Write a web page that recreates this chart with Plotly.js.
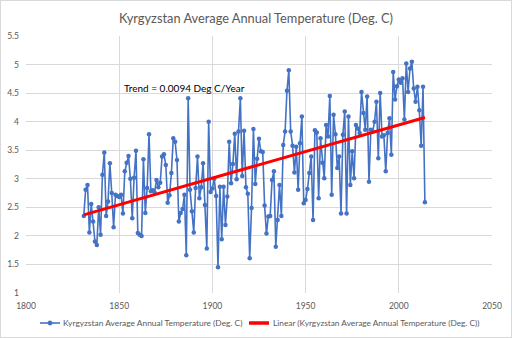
<!DOCTYPE html>
<html><head><meta charset="utf-8">
<script src="https://cdn.plot.ly/plotly-3.0.1.min.js"></script>
<style>
html,body{margin:0;padding:0;background:#fff;}
#wrap{position:relative;width:512px;height:338px;}
#chart{width:512px;height:338px;}
#frame{position:absolute;left:0;top:0;width:512px;height:338px;box-sizing:border-box;border:1px solid #d9d9d9;pointer-events:none;}
</style></head>
<body><div id="wrap"><div id="chart"></div><div id="frame"></div></div>
<script>
const startYear = 1831;
const temps = [
 2.35,2.81,2.89,2.06,2.56,2.25,1.90,1.84,2.50,2.02,
 3.07,3.46,2.35,2.60,3.27,2.75,2.15,2.72,2.70,2.68,
 2.72,2.39,3.13,3.28,3.40,3.00,2.31,3.02,3.49,2.05,
 2.02,2.00,3.34,2.40,2.84,3.78,2.78,2.80,2.76,2.98,
 2.85,2.93,3.39,3.43,3.24,2.58,2.71,3.10,3.71,3.65,
 3.33,2.25,2.40,2.47,2.72,1.66,4.41,2.81,2.43,2.06,
 2.84,3.39,2.66,2.85,3.27,2.54,1.78,4.00,2.77,2.83,
 3.00,2.70,1.45,2.86,1.94,2.86,2.19,2.69,3.65,2.92,
 3.26,3.79,2.99,3.83,4.41,3.05,3.84,2.85,2.74,1.61,
 2.49,3.87,2.91,3.35,3.70,3.48,3.47,2.53,2.04,2.34,
 2.35,2.98,3.13,1.81,2.28,2.89,2.35,3.59,3.83,4.54,
 4.90,3.83,3.58,3.11,3.56,2.81,3.62,4.09,2.57,2.63,
 2.82,3.10,3.39,2.28,3.85,3.81,2.66,3.71,3.28,3.01,
 3.94,3.74,4.45,2.72,4.12,3.78,3.19,3.39,2.39,3.77,
 4.18,2.39,4.09,2.89,3.48,3.01,3.94,3.88,3.80,4.52,
 4.15,3.86,4.44,2.95,3.86,3.83,4.00,4.35,3.36,4.50,
 3.74,3.76,3.13,3.80,4.06,3.42,4.87,4.39,4.62,4.74,
 4.68,4.76,4.04,5.02,4.52,4.93,5.05,4.58,4.35,4.61,
 4.20,3.58,4.61,2.59
];
const years = temps.map((_, i) => startYear + i);
const seriesName = "Kyrgyzstan Average Annual Temperature (Deg. C)";
const trendName = "Linear (Kyrgyzstan Average Annual Temperature (Deg. C))";
const trendLabel = "Trend = 0.0094 Deg C/Year";
const xTicks = [1800, 1850, 1900, 1950, 2000, 2050];
const yTicks = [1, 1.5, 2, 2.5, 3, 3.5, 4, 4.5, 5, 5.5];

// least-squares fit
const n = years.length;
const mx = years.reduce((a,b)=>a+b,0)/n, my = temps.reduce((a,b)=>a+b,0)/n;
let sxy=0, sxx=0;
for (let i=0;i<n;i++){ sxy += (years[i]-mx)*(temps[i]-my); sxx += (years[i]-mx)**2; }
const slope = sxy/sxx, icpt = my - slope*mx;
const trendX = [years[0], years[n-1]];
const trendY = trendX.map(x => icpt + slope*x);

const BLUE = '#4472C4', RED = '#FF0000';
const font = "Lato, 'Open Sans', sans-serif";
const data = [
 {x: years, y: temps, type:'scatter', mode:'lines+markers', name: seriesName,
  line:{color:BLUE, width:1.6}, marker:{color:BLUE, size:4.5}},
 {x: trendX, y: trendY, type:'scatter', mode:'lines', name: trendName,
  line:{color:RED, width:3}}
];

// manual legend (paper coords; plot area 466 x 257 px)
const W = 466, H = 257, L = 26, B = 293;
const px = v => (v - L) / W, py = v => (B - v) / H;
const legY = py(323);
const shapes = [
 {type:'line', xref:'paper', yref:'paper', x0:px(40), x1:px(60), y0:legY, y1:legY, line:{color:BLUE, width:1.6}},
 {type:'circle', xref:'paper', yref:'paper', x0:px(47.8), x1:px(52.2), y0:legY-2.2/H, y1:legY+2.2/H, fillcolor:BLUE, line:{color:BLUE, width:0.5}},
 {type:'line', xref:'paper', yref:'paper', x0:px(249), x1:px(269), y0:legY, y1:legY, line:{color:RED, width:3.5}}
];
const annotations = [
 {text:trendLabel, xref:'paper', yref:'paper', x:px(184), y:py(88), xanchor:'center', yanchor:'middle', showarrow:false, font:{family:font, size:10, color:'#000'}},
 {text:seriesName, xref:'paper', yref:'paper', x:px(61), y:legY, xanchor:'left', yanchor:'middle', showarrow:false, font:{family:font, size:8.4, color:'#595959'}},
 {text:trendName, xref:'paper', yref:'paper', x:px(271), y:legY, xanchor:'left', yanchor:'middle', showarrow:false, font:{family:font, size:8.3, color:'#595959'}}
];

const layout = {
 width:512, height:338,
 margin:{l:L, r:512-L-W, t:36, b:338-B},
 paper_bgcolor:'#fff', plot_bgcolor:'#fff',
 font:{family:font, color:'#595959', size:9},
 title:{text:"Kyrgyzstan Average Annual Temperature (Deg. C)", font:{family:font, size:12.8, color:'#595959'}, x:0.5, xanchor:'center', y:0.945, yanchor:'middle'},
 xaxis:{range:[1800,2050], tickvals:xTicks, ticktext:xTicks.map(String), showgrid:true, gridcolor:'#d9d9d9', gridwidth:1,
   zeroline:false, showline:false, ticks:'', ticklabelstandoff:6, tickfont:{size:8.5, color:'#595959'}, automargin:false},
 yaxis:{range:[1,5.5], tickvals:yTicks, ticktext:yTicks.map(String), showgrid:true, gridcolor:'#d9d9d9', gridwidth:1,
   zeroline:false, showline:false, ticks:'', ticklabelstandoff:6, tickfont:{size:8.5, color:'#595959'}, automargin:false},
 showlegend:false,
 shapes, annotations
};
Plotly.newPlot('chart', data, layout, {displayModeBar:false, staticPlot:true});
</script></body></html>
